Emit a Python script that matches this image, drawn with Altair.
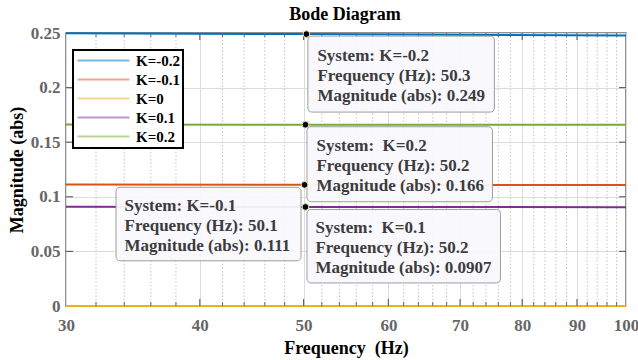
import altair as alt
import pandas as pd

# Magnitude response (abs) of each system, read at 30 Hz, at the datatip frequency and at 100 Hz
SYSTEMS = ["K=-0.2", "K=-0.1", "K=0", "K=0.1", "K=0.2"]
COLORS = ["#0072BD", "#D95319", "#EDB120", "#7E2F8E", "#77AC30"]

FREQ_KM02 = [30, 50.3, 100]
MAG_KM02 = [0.2498, 0.249, 0.2478]
FREQ_KM01 = [30, 50.1, 100]
MAG_KM01 = [0.1112, 0.111, 0.1108]
FREQ_K0 = [30, 50.0, 100]
MAG_K0 = [0.0, 0.0, 0.0]
FREQ_KP01 = [30, 50.2, 100]
MAG_KP01 = [0.0908, 0.0907, 0.0905]
FREQ_KP02 = [30, 50.2, 100]
MAG_KP02 = [0.1661, 0.166, 0.1659]

# Datatips
TIP_SYSTEM = ["K=-0.2", "K=0.2", "K=-0.1", "K=0.1"]
TIP_LABEL = ["K=-0.2", "\u00a0K=0.2", "K=-0.1", "\u00a0K=0.1"]
TIP_FREQ = [50.3, 50.2, 50.1, 50.2]
TIP_MAG = ["0.249", "0.166", "0.111", "0.0907"]

# Axis ticks
X_MAJOR = [30, 40, 50, 60, 70, 80, 90, 100]
X_MINOR = [32, 34, 36, 38, 42, 44, 46, 48, 52, 54, 56, 58, 62, 64, 66, 68,
           72, 74, 76, 78, 82, 84, 86, 88, 92, 94, 96, 98]
Y_MAJOR = [0, 0.05, 0.1, 0.15, 0.2, 0.25]

TITLE = "Bode Diagram"
W, H = 560, 273
FONT = "Liberation Serif"

rows = []
for name, fr, mg in [("K=-0.2", FREQ_KM02, MAG_KM02), ("K=-0.1", FREQ_KM01, MAG_KM01),
                     ("K=0", FREQ_K0, MAG_K0), ("K=0.1", FREQ_KP01, MAG_KP01),
                     ("K=0.2", FREQ_KP02, MAG_KP02)]:
    for f, m in zip(fr, mg):
        rows.append({"system": name, "freq": f, "mag": m})
df_lines = pd.DataFrame(rows)

df_tips = pd.DataFrame({
    "system": TIP_SYSTEM,
    "freq": TIP_FREQ,
    "mag": [float(v) for v in TIP_MAG],
    "text": [f"System: {lab}\nFrequency (Hz): {f}\nMagnitude (abs): {m}"
             for lab, f, m in zip(TIP_LABEL, TIP_FREQ, TIP_MAG)],
})

x_scale = alt.Scale(type="log", domain=[30, 100], nice=False)
y_scale = alt.Scale(domain=[0, 0.25], nice=False, zero=False)

X = alt.X("freq:Q", scale=x_scale, axis=alt.Axis(
    values=X_MAJOR, format="d", title="Frequency \u00a0(Hz)", grid=True,
    ticks=False, domain=False, labelPadding=11, labelFlush=False,
    labelOverlap=False, titleY=47, titleBaseline="alphabetic"))
Y = alt.Y("mag:Q", scale=y_scale, axis=alt.Axis(
    values=Y_MAJOR, format=".2~f", title="Magnitude (abs)", grid=True,
    ticks=False, domain=False, labelPadding=6, labelFlush=False,
    labelOverlap=False))

# Minor (dotted) grid
minor_grid = alt.Chart(pd.DataFrame({"freq": X_MINOR})).mark_rule(
    color="#c4c4c4", strokeWidth=1, strokeDash=[1.5, 2]
).encode(x=X)

# Inward tick marks on all four sides
tick_bottom = alt.Chart(pd.DataFrame({"freq": X_MAJOR[1:-1]})).mark_rule(
    color="#666666", strokeWidth=1.2).encode(x=X, y=alt.value(H), y2=alt.value(H - 7))
tick_top = alt.Chart(pd.DataFrame({"freq": X_MAJOR[1:-1]})).mark_rule(
    color="#666666", strokeWidth=1.2).encode(x=X, y=alt.value(0), y2=alt.value(7))
mtick_bottom = alt.Chart(pd.DataFrame({"freq": X_MINOR})).mark_rule(
    color="#666666", strokeWidth=1).encode(x=X, y=alt.value(H), y2=alt.value(H - 4))
mtick_top = alt.Chart(pd.DataFrame({"freq": X_MINOR})).mark_rule(
    color="#666666", strokeWidth=1).encode(x=X, y=alt.value(0), y2=alt.value(4))
tick_left = alt.Chart(pd.DataFrame({"mag": Y_MAJOR[1:-1]})).mark_rule(
    color="#666666", strokeWidth=1.2).encode(y=Y, x=alt.value(0), x2=alt.value(7))
tick_right = alt.Chart(pd.DataFrame({"mag": Y_MAJOR[1:-1]})).mark_rule(
    color="#666666", strokeWidth=1.2).encode(y=Y, x=alt.value(W), x2=alt.value(W - 7))

lines = alt.Chart(df_lines).mark_line(strokeWidth=2).encode(
    x=X, y=Y,
    color=alt.Color("system:N", scale=alt.Scale(domain=SYSTEMS, range=COLORS),
                    legend=alt.Legend(
                        title=None, orient="none", legendX=7, legendY=17,
                        symbolType="M-5,0H5", symbolSize=108, symbolStrokeWidth=2,
                        symbolOffset=20, symbolOpacity=0.5,
                        labelFont=FONT, labelFontSize=15,
                        labelFontWeight="bold", labelColor="black", labelOffset=25,
                        padding=3, rowPadding=3, fillColor="white",
                        strokeColor="black")),
)

# Datatip boxes: (left, right, top, bottom) pixel offsets from the anchor point
TIP_BOX = {
    "K=-0.2": (1.5, 188, 2, 78),
    "K=0.2": (1.5, 187, 2, 77),
    "K=-0.1": (-188.5, -3.5, 2.5, 76),
    "K=0.1": (1.5, 195, 2.5, 76),
}
TIP_TEXT = {
    "K=-0.2": (11, 27),
    "K=0.2": (11, 26),
    "K=-0.1": (-180, 26),
    "K=0.1": (10, 26),
}

tip_layers = []
for name in TIP_SYSTEM:
    sub = df_tips[df_tips["system"] == name]
    l, r, t, b = TIP_BOX[name]
    tdx, tdy = TIP_TEXT[name]
    box = alt.Chart(sub).mark_rect(
        fill="#f8f8fd", stroke="#9a9a9a", strokeWidth=1, cornerRadius=4,
        opacity=0.95, xOffset=l, x2Offset=r, yOffset=t, y2Offset=b
    ).encode(x=X, x2="freq:Q", y=Y, y2="mag:Q")
    txt = alt.Chart(sub).mark_text(
        align="left", baseline="alphabetic", lineBreak="\n", lineHeight=20,
        font=FONT, fontSize=17, fontWeight="bold", color="#3c3c3c",
        dx=tdx, dy=tdy
    ).encode(x=X, y=Y, text="text:N")
    tip_layers += [box, txt]

dots = alt.Chart(df_tips).mark_circle(
    size=45, fill="black", stroke="#efe6a0", strokeWidth=1, opacity=1
).encode(x=X, y=Y)

title = alt.Chart(pd.DataFrame({"t": [TITLE]})).mark_text(
    font=FONT, fontSize=18, fontWeight="bold", color="black",
    align="center", baseline="alphabetic"
).encode(x=alt.value(W / 2 - 1), y=alt.value(-13.5), text="t:N")

chart = alt.layer(
    minor_grid, lines, tick_bottom, tick_top, mtick_bottom, mtick_top,
    tick_left, tick_right, *tip_layers, dots, title
).properties(
    width=W, height=H,
    autosize=alt.AutoSizeParams(type="none"),
    padding={"left": 66, "top": 33, "right": 12, "bottom": 54},
).configure(
    font=FONT, background="white"
).configure_view(
    stroke="#6e6e6e", strokeWidth=1.5
).configure_axis(
    labelFont=FONT, labelFontSize=17, labelFontWeight="bold", labelColor="#666666",
    titleFont=FONT, titleFontSize=18, titleFontWeight="bold", titleColor="black",
    gridColor="#dcdcdc", gridWidth=1
).configure_legend(
    strokeWidth=2
)

chart.save("out.html", embed_options={"renderer": "svg", "actions": False})
